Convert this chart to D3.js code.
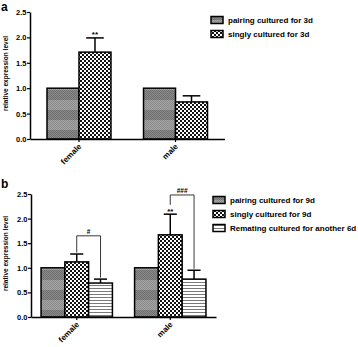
<!DOCTYPE html>
<html>
<head>
<meta charset="utf-8">
<script src="https://cdn.jsdelivr.net/npm/d3@7"></script>
<style>
  html, body { margin: 0; padding: 0; background: #fff; }
  svg { display: block; }
  text { font-family: "Liberation Sans", Arial, sans-serif; font-weight: bold; fill: #000; }
</style>
</head>
<body>
<svg id="chart" width="358" height="347"></svg>
<script>
// ---------- data ----------
const categoriesA = ["female", "male"];
const seriesA = ["pairing cultured for 3d", "singly cultured for 3d"];
const valuesA = [[1.0, 1.71], [1.0, 0.73]];
const errorsA = [[0, 0.28], [0, 0.12]];
const starsA = [{ cat: "female", s: 1, label: "**" }];

const categoriesB = ["female", "male"];
const seriesB = ["pairing cultured for 9d", "singly cultured for 9d", "Remating cultured for another 6d"];
const valuesB = [[1.0, 1.12, 0.69], [1.0, 1.67, 0.77]];
const errorsB = [[0, 0.16, 0.08], [0, 0.42, 0.18]];
const starsB = [{ cat: "male", s: 1, label: "**" }];
const bracketsB = [
  { cat: "female", from: 1, to: 2, top: 1.65, legs: [1.31, 0.80], label: "#" },
  { cat: "male", from: 1, to: 2, top: 2.48, legs: [2.28, 0.98], label: "###" }
];

const yTicks = [0, 0.5, 1.0, 1.5, 2.0, 2.5];
const yTitle = "relative expression level";
const patterns = ["pPair", "pSingle", "pRemate"];

// ---------- patterns ----------
const svg = d3.select("#chart");
svg.append("rect").attr("width", 358).attr("height", 347).attr("fill", "#fff");
const defs = svg.append("defs");

// pairing: grey checker with horizontal bands
const pp = defs.append("pattern").attr("id", "pPair").attr("patternUnits", "userSpaceOnUse")
  .attr("width", 2).attr("height", 20);
pp.append("rect").attr("width", 2).attr("height", 10).attr("fill", "#a4a4a4");
pp.append("rect").attr("y", 10).attr("width", 2).attr("height", 10).attr("fill", "#8a8a8a");
for (let y = 0; y < 20; y += 2) {
  const dark = y >= 10;
  pp.append("rect").attr("x", 0).attr("y", y).attr("width", 1).attr("height", 1).attr("fill", dark ? "#6f6f6f" : "#8c8c8c");
  pp.append("rect").attr("x", 1).attr("y", y + 1).attr("width", 1).attr("height", 1).attr("fill", dark ? "#6f6f6f" : "#8c8c8c");
}
// singly: black/white checkerboard
const ps = defs.append("pattern").attr("id", "pSingle").attr("patternUnits", "userSpaceOnUse")
  .attr("width", 4).attr("height", 4);
ps.append("rect").attr("width", 4).attr("height", 4).attr("fill", "#fff");
ps.append("rect").attr("width", 2).attr("height", 2).attr("fill", "#111");
ps.append("rect").attr("x", 2).attr("y", 2).attr("width", 2).attr("height", 2).attr("fill", "#111");
// remating: horizontal lines
const pr = defs.append("pattern").attr("id", "pRemate").attr("patternUnits", "userSpaceOnUse")
  .attr("width", 3).attr("height", 3);
pr.append("rect").attr("width", 3).attr("height", 3).attr("fill", "#fff");
pr.append("rect").attr("width", 3).attr("height", 1).attr("fill", "#7a7a7a");

// ---------- panel drawing ----------
function drawPanel(cfg) {
  const g = svg.append("g");
  const y = d3.scaleLinear().domain([0, 2.5]).range([cfg.y0, cfg.y1]);
  const x = d3.scaleBand().domain(cfg.categories).range([cfg.xAxis, cfg.xEnd])
    .paddingInner(cfg.pi).paddingOuter(cfg.po);
  const xs = d3.scaleBand().domain(d3.range(cfg.series.length)).range([0, x.bandwidth()]);

  // panel letter
  g.append("text").attr("x", 1).attr("y", cfg.letterY).attr("font-size", 12).text(cfg.letter);

  // y axis title
  g.append("text")
    .attr("transform", `translate(${cfg.titleX},${(cfg.y0 + cfg.y1) / 2 - 2}) rotate(-90)`)
    .attr("text-anchor", "middle").attr("font-size", 6.5).text(yTitle);

  // bars
  cfg.categories.forEach((c, ci) => {
    cfg.series.forEach((s, si) => {
      const v = cfg.values[ci][si];
      const bx = x(c) + xs(si);
      const e = cfg.errors[ci][si];
      if (e > 0) {
        const cw = xs.bandwidth() * 0.55;
        g.append("line").attr("x1", bx + xs.bandwidth() / 2).attr("x2", bx + xs.bandwidth() / 2)
          .attr("y1", y(v)).attr("y2", y(v + e)).attr("stroke", "#000").attr("stroke-width", 1.5);
        g.append("line").attr("x1", bx + xs.bandwidth() / 2 - cw / 2).attr("x2", bx + xs.bandwidth() / 2 + cw / 2)
          .attr("y1", y(v + e)).attr("y2", y(v + e)).attr("stroke", "#000").attr("stroke-width", 1.5);
      }
      g.append("rect").attr("x", bx).attr("y", y(v))
        .attr("width", xs.bandwidth()).attr("height", y(0) - y(v))
        .attr("fill", `url(#${patterns[si]})`).attr("stroke", "#000").attr("stroke-width", 1.5);
    });
  });

  // stars
  cfg.stars.forEach(st => {
    const ci = cfg.categories.indexOf(st.cat);
    const top = cfg.values[ci][st.s] + cfg.errors[ci][st.s];
    g.append("text").attr("x", x(st.cat) + xs(st.s) + xs.bandwidth() / 2).attr("y", y(top) - 0.5)
      .attr("text-anchor", "middle").attr("font-size", 8).text(st.label);
  });

  // brackets
  (cfg.brackets || []).forEach(b => {
    const xa = x(b.cat) + xs(b.from) + xs.bandwidth() / 2;
    const xb = x(b.cat) + xs(b.to) + xs.bandwidth() / 2;
    g.append("path")
      .attr("d", `M${xa},${y(b.legs[0])}V${y(b.top)}H${xb}V${y(b.legs[1])}`)
      .attr("fill", "none").attr("stroke", "#222").attr("stroke-width", 0.9);
    g.append("text").attr("x", (xa + xb) / 2).attr("y", y(b.top) - 2)
      .attr("text-anchor", "middle").attr("font-size", 6.5).text(b.label);
  });

  // y axis
  const ya = g.append("g").attr("transform", `translate(${cfg.xAxis},0)`)
    .call(d3.axisLeft(y).tickValues(yTicks).tickFormat(d3.format(".1f")).tickSize(3).tickSizeOuter(0));
  ya.select(".domain").attr("stroke-width", 1.5);
  ya.selectAll(".tick line").attr("stroke-width", 1.2);
  ya.selectAll(".tick text").attr("x", -3.5).attr("font-size", 7.5)
    .attr("font-family", "Liberation Sans, Arial, sans-serif").attr("font-weight", "bold");

  // x axis
  const xa = g.append("g").attr("transform", `translate(0,${cfg.y0})`)
    .call(d3.axisBottom(x).tickSize(3).tickSizeOuter(0).tickFormat(""));
  xa.select(".domain").attr("stroke-width", 1.5);
  xa.selectAll(".tick line").attr("stroke-width", 1.2);
  cfg.categories.forEach(c => {
    g.append("text")
      .attr("transform", `translate(${x(c) + x.bandwidth() / 2 + 3},${cfg.y0 + 8}) rotate(-45)`)
      .attr("text-anchor", "end").attr("font-size", 8).text(c);
  });

  // legend
  cfg.series.forEach((s, si) => {
    const ly = cfg.legY + si * cfg.legStep;
    g.append("rect").attr("x", cfg.legX).attr("y", ly - 3.5).attr("width", 12).attr("height", 7)
      .attr("fill", `url(#${patterns[si]})`).attr("stroke", "#000").attr("stroke-width", 1.5);
    g.append("text").attr("x", cfg.legX + 17).attr("y", ly + 3).attr("font-size", 8).text(s);
  });
}

drawPanel({
  letter: "a", letterY: 11, titleX: 8,
  categories: categoriesA, series: seriesA, values: valuesA, errors: errorsA, stars: starsA,
  y0: 139, y1: 12, xAxis: 30, xEnd: 224.5, pi: 0.337, po: 0.176,
  legX: 211, legY: 20, legStep: 14
});

drawPanel({
  letter: "b", letterY: 188, titleX: 8,
  categories: categoriesB, series: seriesB, values: valuesB, errors: errorsB, stars: starsB, brackets: bracketsB,
  y0: 317, y1: 194, xAxis: 31, xEnd: 216, pi: 0.237, po: 0.1075,
  legX: 213, legY: 200, legStep: 14
});
</script>
</body>
</html>
